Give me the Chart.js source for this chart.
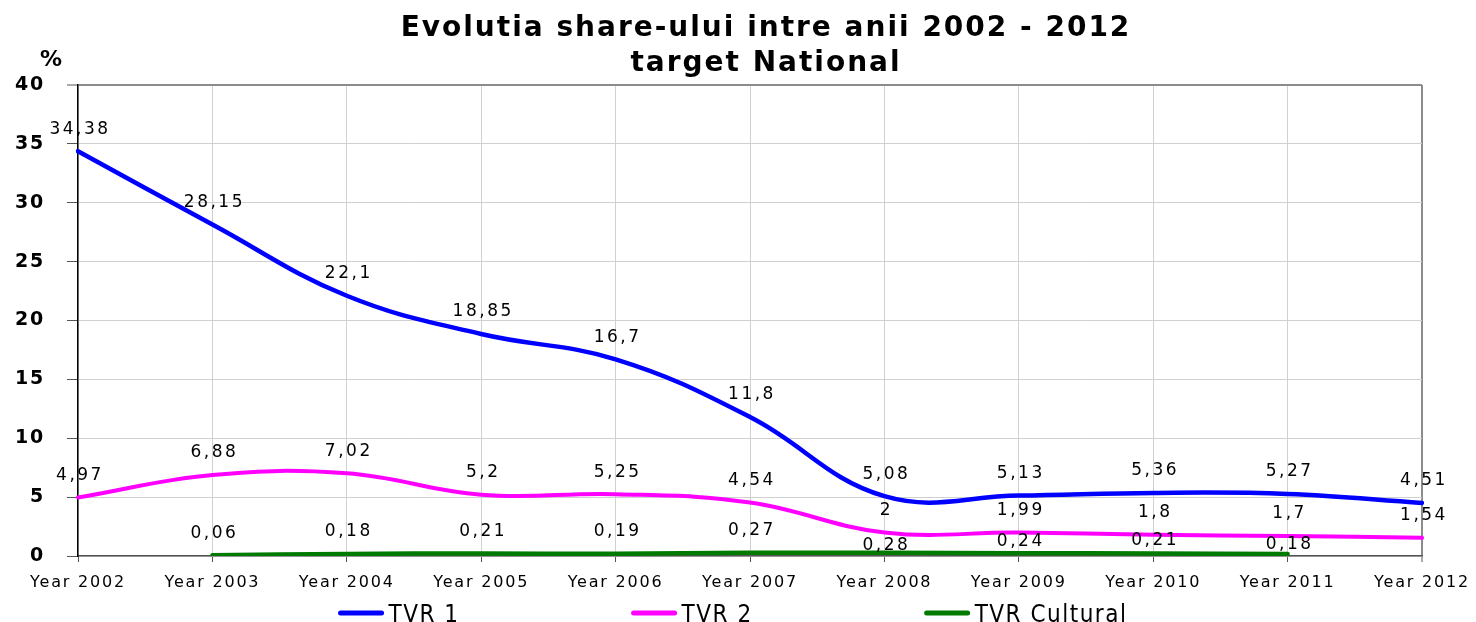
<!DOCTYPE html>
<html>
<head>
<meta charset="utf-8">
<title>Evolutia share-ului</title>
<script src="https://cdn.jsdelivr.net/npm/chart.js@4.4.1/dist/chart.umd.min.js"></script>
<style>
    html, body { margin: 0; padding: 0; background: #fff; }
    #wrap { width: 1476px; height: 622px; }
</style>
</head>
<body>
<div id="wrap"><canvas id="chartShare" width="1476" height="622"></canvas></div>
<script>
// date
const years = ['Year 2002', 'Year 2003', 'Year 2004', 'Year 2005', 'Year 2006', 'Year 2007',
               'Year 2008', 'Year 2009', 'Year 2010', 'Year 2011', 'Year 2012'];
const tvr1 = [34.38, 28.15, 22.1, 18.85, 16.7, 11.8, 5.08, 5.13, 5.36, 5.27, 4.51];
const tvr2 = [4.97, 6.88, 7.02, 5.2, 5.25, 4.54, 2, 1.99, 1.8, 1.7, 1.54];
const tvrCultural = [null, 0.06, 0.18, 0.21, 0.19, 0.27, 0.28, 0.24, 0.21, 0.18, null];
const seriesNames = ['TVR 1', 'TVR 2', 'TVR Cultural'];
const seriesColors = ['#0000ff', '#ff00ff', '#007a00'];
const yMin = 0, yMax = 40, yStep = 5;
const titleLines = ['Evolutia share-ului intre anii 2002 - 2012', 'target National'];
const unitLabel = '%';

const FONT = "'DejaVu Sans', sans-serif";
const FONT_COND = "'DejaVu Sans Condensed', 'DejaVu Sans', sans-serif";

// eticheta cultural e mai jos pe ultimii ani (ca in original)
const labelShift = {
    2: [0, 22, 22, 22, 22, 22, 7, 12, 13, 9, 0]
};

function fmt(v) {
    return String(v).replace('.', ',');
}

const spacingPlugin = {
    id: 'spacing',
    beforeLayout(chart) { chart.ctx.letterSpacing = '1.8px'; },
    beforeDraw(chart) { chart.ctx.letterSpacing = '1.8px'; }
};

const valueLabels = {
    id: 'valueLabels',
    afterDatasetsDraw(chart) {
        const ctx = chart.ctx;
        ctx.save();
        ctx.font = '17px ' + FONT;
        ctx.letterSpacing = '2.5px';
        ctx.fillStyle = '#000';
        ctx.textAlign = 'center';
        ctx.textBaseline = 'middle';
        chart.data.datasets.forEach((ds, di) => {
            const meta = chart.getDatasetMeta(di);
            meta.data.forEach((pt, i) => {
                const v = ds.data[i];
                if (v === null || v === undefined) return;
                const dy = labelShift[di] ? labelShift[di][i] : 22;
                ctx.fillText(fmt(v), pt.x + 2, pt.y - dy);
            });
        });
        ctx.restore();
    }
};

const decorations = {
    id: 'decorations',
    afterDraw(chart) {
        const ctx = chart.ctx;
        ctx.save();
        ctx.fillStyle = '#000';

        // titlu
        ctx.textAlign = 'center';
        ctx.textBaseline = 'alphabetic';
        ctx.font = 'bold 28px ' + FONT;
        ctx.letterSpacing = '2px';
        ctx.fillText(titleLines[0], 766, 36);
        ctx.fillText(titleLines[1], 766, 71);

        // unitate axa Y
        ctx.letterSpacing = '0px';
        ctx.font = 'bold 22px ' + FONT;
        ctx.fillText(unitLabel, 51, 66);

        // legenda
        ctx.font = '24px ' + FONT_COND;
        ctx.letterSpacing = '1.5px';
        ctx.textAlign = 'left';
        const lineW = 45, gap = 5, pad = 172;
        const widths = seriesNames.map(n => ctx.measureText(n).width);
        const total = widths.reduce((a, w) => a + w + lineW + gap, 0) + pad * (seriesNames.length - 1);
        let x = 733 - total / 2;
        const y = 613;
        seriesNames.forEach((name, i) => {
            ctx.strokeStyle = seriesColors[i];
            ctx.lineWidth = 5;
            ctx.lineCap = 'round';
            ctx.beginPath();
            ctx.moveTo(x + 2, y);
            ctx.lineTo(x + lineW - 2, y);
            ctx.stroke();
            ctx.fillText(name, x + lineW + gap, 622);
            x += lineW + gap + widths[i] + pad;
        });
        ctx.restore();
    }
};

const ctx = document.getElementById('chartShare');

new Chart(ctx, {
    type: 'line',
    data: {
        labels: years,
        datasets: [
            { label: seriesNames[0], data: tvr1, borderColor: seriesColors[0], borderWidth: 4.5 },
            { label: seriesNames[1], data: tvr2, borderColor: seriesColors[1], borderWidth: 4 },
            { label: seriesNames[2], data: tvrCultural, borderColor: seriesColors[2], borderWidth: 4.5 }
        ]
    },
    options: {
        responsive: false,
        animation: false,
        layout: { padding: { left: 0, right: 54, top: 85, bottom: 29 } },
        elements: {
            point: { radius: 0, hoverRadius: 0 },
            line: { tension: 0.4, fill: false, borderCapStyle: 'round' }
        },
        plugins: {
            legend: { display: false },
            title: { display: false },
            tooltip: { enabled: false }
        },
        scales: {
            x: {
                grid: {
                    color: c => c.index === years.length - 1 ? '#8c8c8c' : '#d0d0d0',
                    lineWidth: c => c.index === years.length - 1 ? 2 : 1,
                    tickLength: 6,
                    tickColor: '#555',
                    tickWidth: 1
                },
                border: { color: '#555', width: 1.5 },
                ticks: {
                    color: '#000',
                    font: { family: FONT, size: 16 },
                    padding: 11,
                    maxRotation: 0,
                    autoSkip: false
                },
                afterFit(s) {
                    s.height = 37;
                    s.paddingLeft = 0;
                    s.paddingRight = 0;
                }
            },
            y: {
                min: yMin,
                max: yMax,
                grid: {
                    color: c => c.tick && c.tick.value === yMax ? '#8c8c8c' : '#d0d0d0',
                    lineWidth: c => c.tick && c.tick.value === yMax ? 2 : 1,
                    tickLength: 11,
                    tickColor: '#555',
                    tickWidth: 1
                },
                border: { color: '#000', width: 1.5 },
                ticks: {
                    stepSize: yStep,
                    color: '#000',
                    font: { family: FONT, size: 19, weight: 'bold' },
                    padding: 22
                },
                afterFit(s) { s.width = 78; }
            }
        }
    },
    plugins: [spacingPlugin, valueLabels, decorations]
});
</script>
</body>
</html>
